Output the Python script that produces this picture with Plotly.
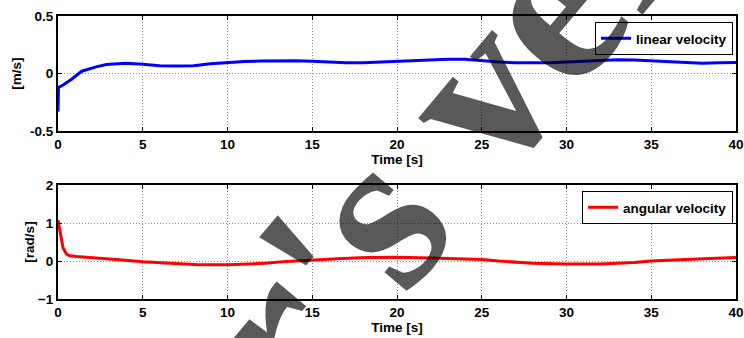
import plotly.graph_objects as go
from plotly.subplots import make_subplots

# ---- data ----
t_lin = [0, 0.03, 0.3, 0.8, 1.4, 2.25, 2.85, 3.5, 4.0, 5.0, 6.0, 7.0, 8.0, 9.0, 10.2, 11.0,
         12.0, 13.0, 14.0, 15.0, 16.0, 17.0, 18.0, 19.0, 20.0, 21.0, 22.0, 23.0, 24.0, 25.0,
         26.0, 27.0, 28.0, 29.0, 30.0, 31.0, 32.0, 33.0, 34.0, 35.0, 36.0, 37.0, 38.0, 39.0, 40.0]
v_lin = [-0.33, -0.12, -0.10, -0.05, 0.02, 0.058, 0.078, 0.088, 0.09, 0.08, 0.068, 0.066, 0.068,
         0.085, 0.1, 0.105, 0.108, 0.11, 0.11, 0.107, 0.1, 0.093, 0.093, 0.1, 0.107, 0.115, 0.12,
         0.124, 0.124, 0.11, 0.1, 0.093, 0.09, 0.093, 0.1, 0.105, 0.115, 0.12, 0.118, 0.11, 0.105,
         0.095, 0.09, 0.093, 0.095]

t_ang = [0, 0.05, 0.15, 0.3, 0.5, 0.7, 1.1, 2.5, 3.6, 5.0, 6.5, 8.3, 10.0, 11.0, 12.2, 13.5,
         15.0, 16.5, 18.2, 20.0, 22.0, 24.0, 25.0, 26.0, 28.0, 30.0, 32.0, 34.0, 35.0, 37.0,
         38.5, 40.0]
w_ang = [1.07, 0.95, 0.69, 0.34, 0.18, 0.14, 0.12, 0.08, 0.035, -0.02, -0.06, -0.1, -0.1, -0.09,
         -0.06, -0.01, 0.03, 0.06, 0.09, 0.1, 0.08, 0.06, 0.04, 0.0, -0.06, -0.08, -0.08, -0.04,
         0.0, 0.04, 0.07, 0.09]

x_ticks = [0, 5, 10, 15, 20, 25, 30, 35, 40]
y1_ticks = [-0.5, 0, 0.5]
y1_labels = ["-0.5", "0", "0.5"]
y2_ticks = [-1, 0, 1, 2]

FONT = "Liberation Sans"
fnt = dict(family=FONT, size=13.5, color="black", weight="bold")

fig = make_subplots(rows=2, cols=1)
fig.add_trace(go.Scatter(x=t_lin, y=v_lin, mode="lines", name="linear velocity",
                         line=dict(color="#0000ff", width=3), legend="legend"), row=1, col=1)
fig.add_trace(go.Scatter(x=t_ang, y=w_ang, mode="lines", name="angular velocity",
                         line=dict(color="#ff0000", width=3), legend="legend2"), row=2, col=1)

H = 338
mt, mb, ml = 16, 39, 58
ph = H - mt - mb
def py(px):
    return (H - mb - px) / ph

axis_common = dict(showline=True, linecolor="black", linewidth=2, mirror="ticks",
                   ticks="inside", ticklen=4, tickcolor="black", tickwidth=1,
                   showgrid=True, gridcolor="#8c8c8c", griddash="1px,2px", gridwidth=1,
                   zeroline=False, tickfont=fnt)

fig.update_xaxes(range=[0, 40], tickvals=x_ticks, ticklabeloverflow="allow",
                 title=dict(text="Time [s]", font=fnt, standoff=1), **axis_common)
fig.update_yaxes(**axis_common)
fig.update_yaxes(range=[-0.5, 0.5], tickvals=y1_ticks, ticktext=y1_labels, domain=[py(131), py(16)],
                 title=dict(text="[m/s]", font=fnt, standoff=5), row=1, col=1)
fig.update_yaxes(range=[-1, 2], tickvals=y2_ticks, domain=[py(299), py(185)],
                 title=dict(text="[rad/s]", font=fnt, standoff=0), row=2, col=1)
fig.update_xaxes(domain=[0, 1])

W = 744
pw = W - ml
leg = dict(xanchor="right", yanchor="top", bgcolor="white", bordercolor="black", borderwidth=1,
           font=fnt, itemwidth=30, tracegroupgap=0)
fig.update_layout(
    width=W, height=H, margin=dict(l=ml, r=0, t=mt, b=mb),
    paper_bgcolor="white", plot_bgcolor="white",
    legend=dict(x=(741 - ml) / pw, y=py(22), **leg),
    legend2=dict(x=(741 - ml) / pw, y=py(191), **leg),
    showlegend=True,
)

# watermark
fig.add_annotation(text="Author's version", xref="paper", yref="paper",
                   x=(376 - ml) / pw, y=py(217), xanchor="center", yanchor="middle",
                   showarrow=False, textangle=-50,
                   font=dict(family="Liberation Serif", size=230,
                             color="rgba(0,0,0,0.65)", weight="bold"))

fig.write_html("out.html")
